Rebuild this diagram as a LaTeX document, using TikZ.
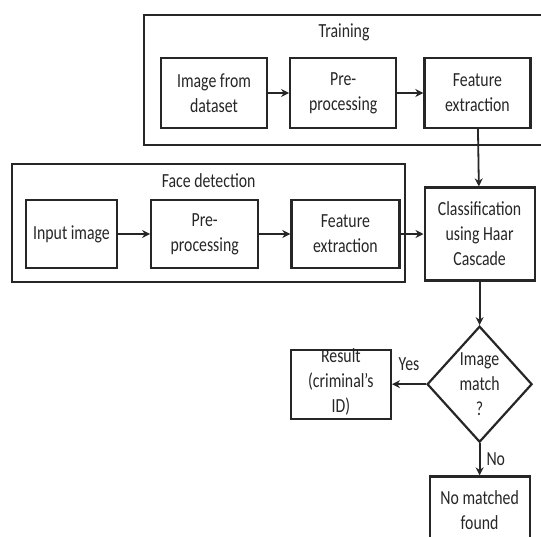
\documentclass[tikz,border=0pt]{standalone}
\usepackage{fontspec}
\setmainfont{Carlito}[FakeStretch=0.79]
\definecolor{Ink}{HTML}{262626}
\usetikzlibrary{arrows.meta,positioning,shapes.geometric}
\tikzset{
  tag/.style={inner sep=0pt,align=center,text=Ink,font=\fontsize{20}{25}\selectfont},
  stage/.style={tag,draw=Ink,line width=2.2pt,minimum height=70pt,minimum width=106pt},
  frame/.style={draw=Ink,line width=2.2pt,inner sep=0pt,anchor=north west},
  decision/.style={diamond,draw=Ink,line width=2.2pt,inner sep=0pt,minimum width=105pt,minimum height=116pt},
  arrow/.style={-{Stealth[length=8pt,width=8pt]},line width=1.8pt,draw=Ink}
}
\begin{document}
\begin{tikzpicture}[x=1pt,y=-1pt]
  \useasboundingbox (0,0) rectangle (541,536);
  \clip (0,0) rectangle (541,536);
  % training branch
  \node[frame,minimum width=400pt,minimum height=130pt] (training) at (143,14) {};
  \node[tag,below=10pt of training.north] (trainingTitle) {Training};
  \node[stage] (load) at (214,93) {Image from\\dataset};
  \node[stage,right=21pt of load] (prepTrain) {Pre-\\processing};
  \node[stage,right=26pt of prepTrain] (featTrain) {Feature\\extraction};
  % face detection branch
  \node[frame,minimum width=393pt,minimum height=118pt] (detection) at (11,163) {};
  \node[tag,below=10pt of detection.north] (detectionTitle) {Face detection};
  \node[stage,minimum width=91pt,minimum height=68pt] (input) at (71.5,234) {Input image};
  \node[stage,right=32pt of input,minimum width=107pt,minimum height=68pt] (prepFace) {Pre-\\processing};
  \node[stage,right=31pt of prepFace,minimum width=108pt,minimum height=68pt] (featFace) {Feature\\extraction};
  \node[stage,right=23pt of featFace,minimum width=110pt,minimum height=93pt] (classify) {Classification\\using Haar\\Cascade};
  % decision
  \node[decision,below=43.5pt of classify] (match) {};
  \node[tag] (matchText) at (match) {Image\\match\\?};
  \node[stage,left=34pt of match,minimum width=100pt,minimum height=69pt] (result) {};
  \node[tag] (resultText) at ([yshift=2pt]result.center) {Result\\(criminal’s\\ID)};
  \node[stage,below=32pt of match,minimum width=100pt,minimum height=140pt] (nomatch) {};
  \node[tag,below=15pt of nomatch.north] (nomatchText) {No matched\\found};

  \draw[arrow] (load)--(prepTrain);
  \draw[arrow] (prepTrain)--(featTrain);
  \draw[arrow] (featTrain)--(classify);
  \draw[arrow] (input)--(prepFace);
  \draw[arrow] (prepFace)--(featFace);
  \draw[arrow] (featFace)--(classify);
  \draw[arrow] (classify)--(match);
  \draw[arrow] (match)--node[tag,midway,above=13pt] (yes) {Yes} (result);
  \draw[arrow] (match)--node[tag,midway,right=6pt] (no) {No} (nomatch);
\end{tikzpicture}
\end{document}
